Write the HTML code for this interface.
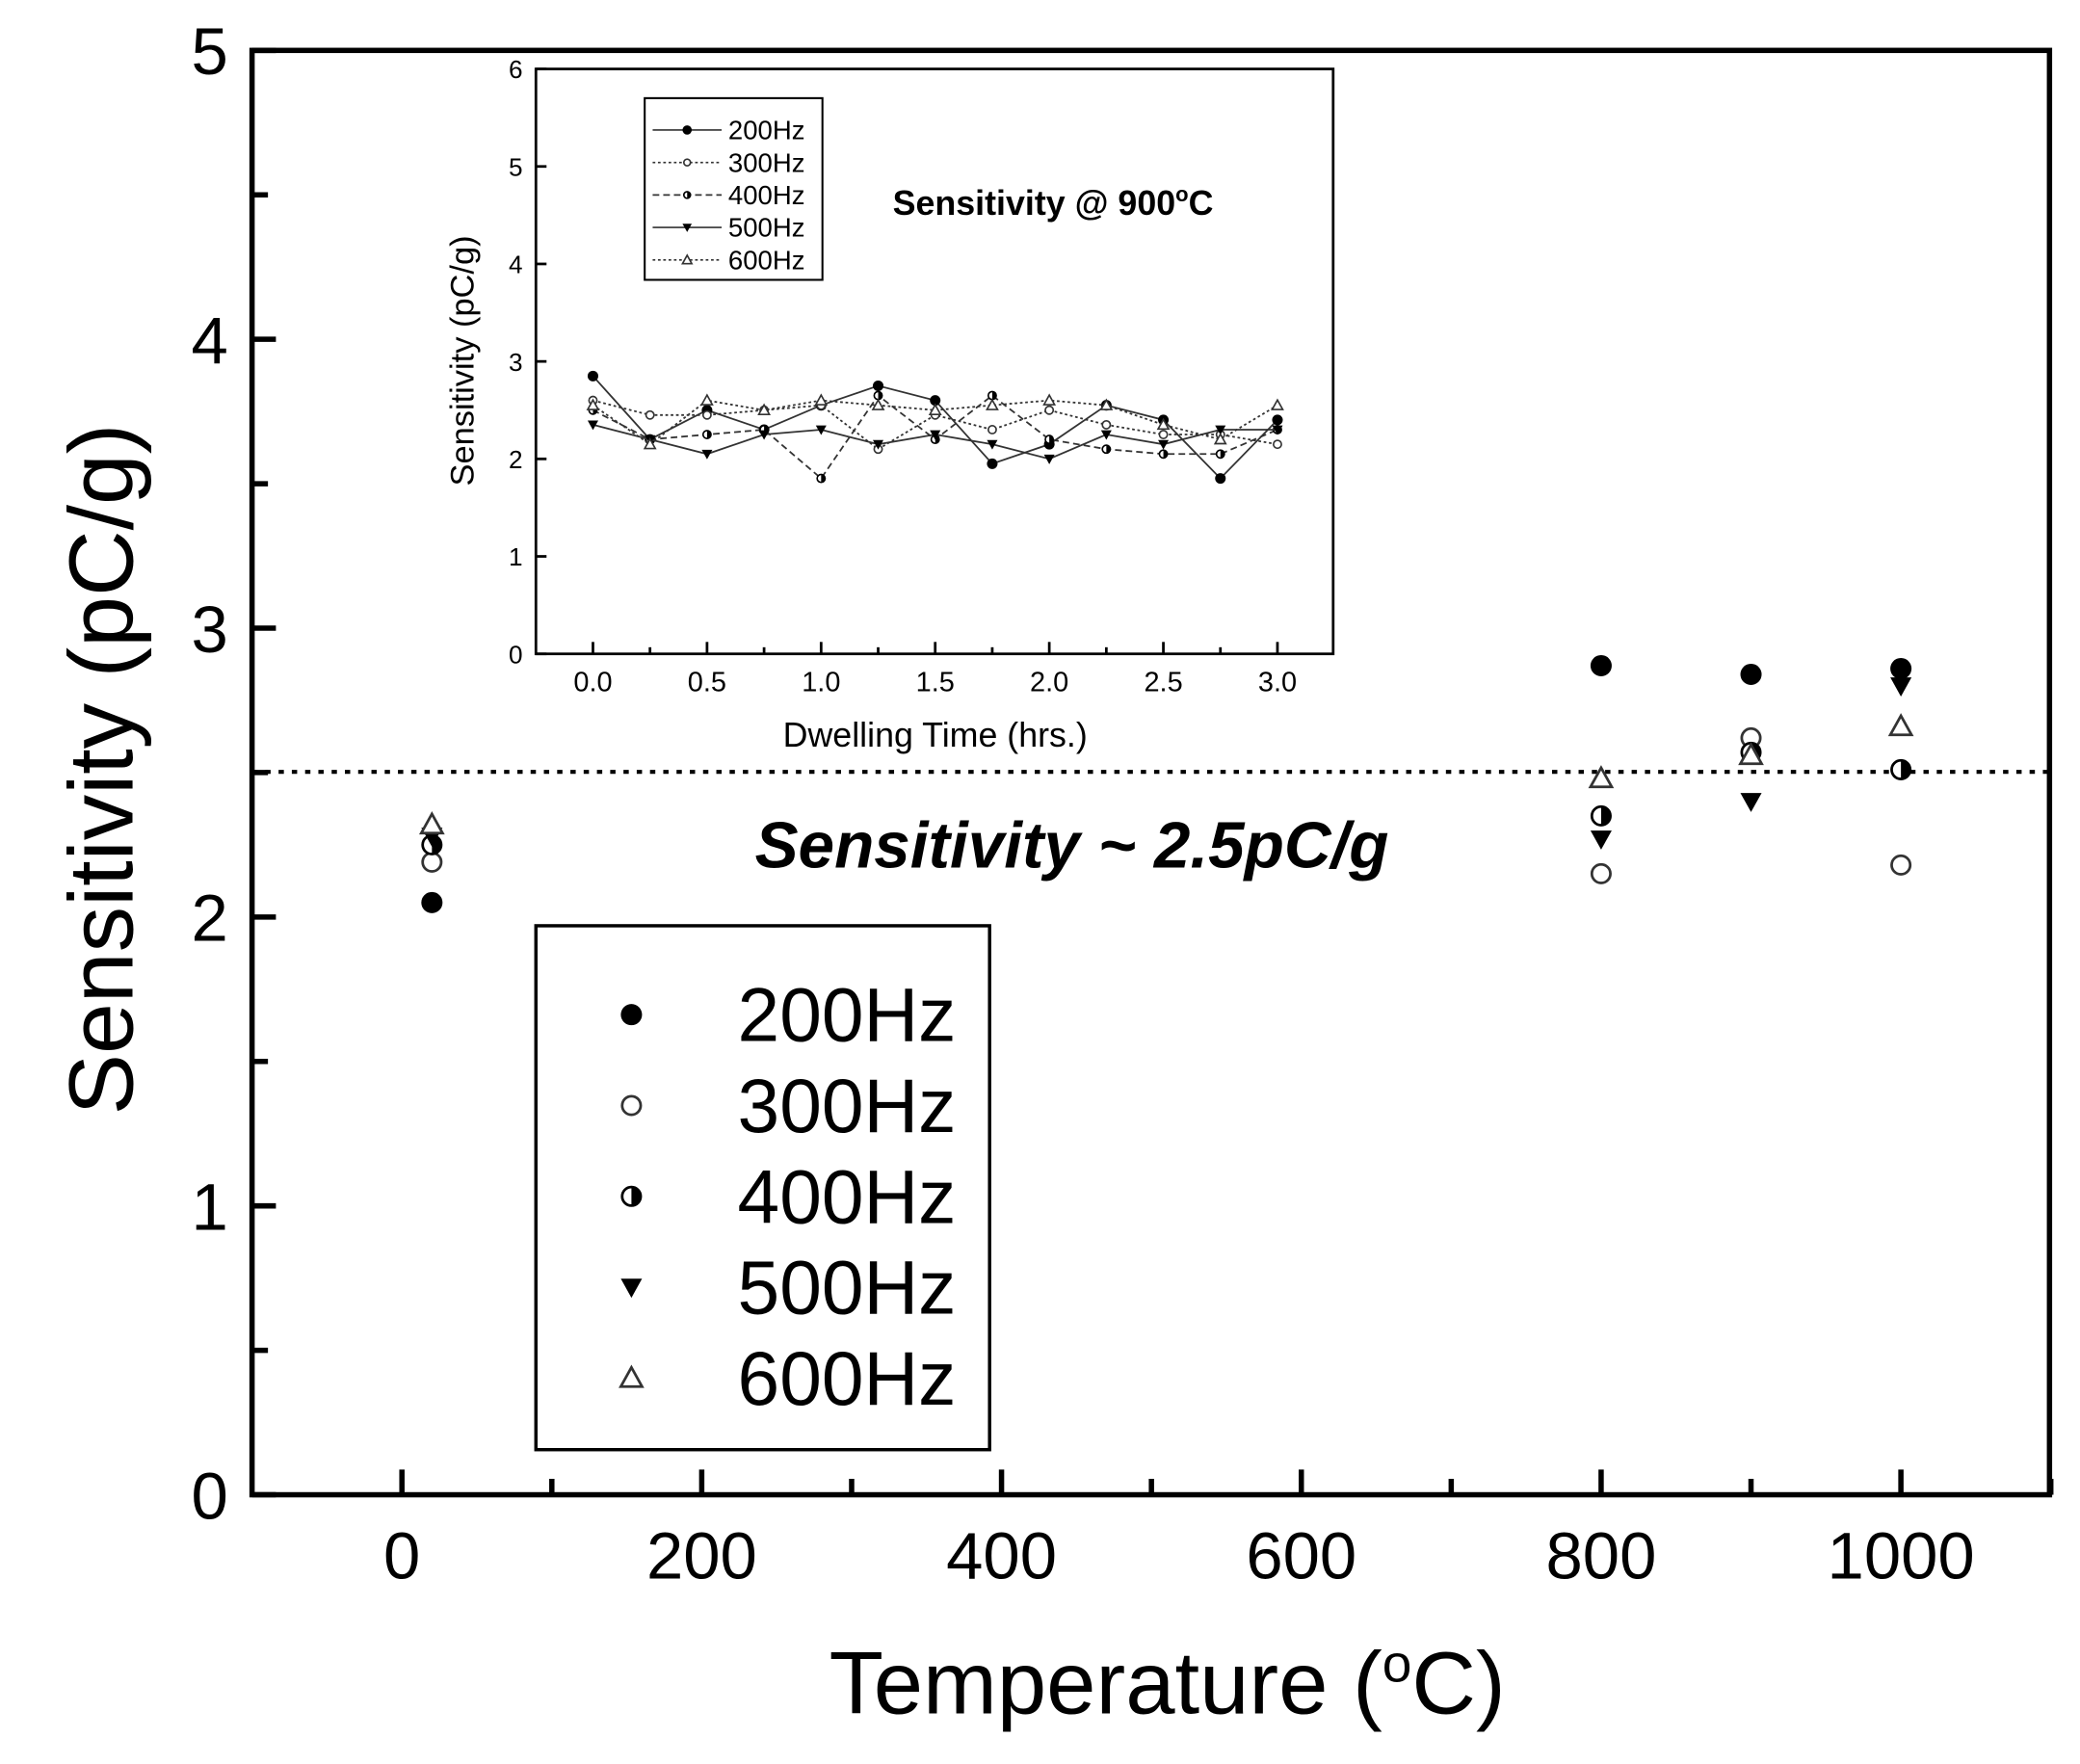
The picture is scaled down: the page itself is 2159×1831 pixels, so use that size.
<!DOCTYPE html>
<html><head><meta charset="utf-8"><style>html,body{margin:0;padding:0;background:#fff}svg{display:block}</style></head>
<body>
<svg id="s" xmlns="http://www.w3.org/2000/svg" width="2159" height="1831" viewBox="0 0 1568 1330" preserveAspectRatio="none" font-family="Liberation Sans, Arial, sans-serif"></svg>
<script>
const s=document.getElementById('s');let h='';
h+='<rect x="190" y="38" width="1355" height="1089" fill="none" stroke="#000" stroke-width="4"/>';
const X=v=>303+v*1.13, Y=v=>1127-v*217.8;
for(let v=0;v<=5;v+=0.5){const y=Y(v);h+=`<line x1="190" x2="${v%1?202:208}" y1="${y}" y2="${y}" stroke="#000" stroke-width="4"/>`;
 if(v%1==0)h+=`<text x="172" y="${y+18}" font-size="50" text-anchor="end">${v}</text>`;}
for(let v=0;v<=1100;v+=100){const x=X(v);h+=`<line x1="${x}" x2="${x}" y1="1127" y2="${v%200?1115:1108}" stroke="#000" stroke-width="4"/>`;
 if(v%200==0&&v<=1000)h+=`<text x="${x}" y="1190" font-size="50" text-anchor="middle">${v}</text>`;}
h+='<text x="880" y="1292" font-size="67" text-anchor="middle">Temperature (<tspan dy="-24" font-size="40">o</tspan><tspan dy="24">C)</tspan></text>';
h+='<text transform="translate(100,580) rotate(-90)" font-size="69" text-anchor="middle">Sensitivity (pC/g)</text>';
h+='<line x1="190" x2="1545" y1="582" y2="582" stroke="#000" stroke-width="3" stroke-dasharray="4,6"/>';
h+='<text x="808" y="654" font-size="49" font-weight="bold" font-style="italic" text-anchor="middle">Sensitivity ~ 2.5pC/g</text>';
function mk(t,x,y,r){r=r||8;const sw=r>5?2:1.2;
 if(t==0)return `<circle cx="${x}" cy="${y}" r="${r}" fill="#000"/>`;
 if(t==1)return `<circle cx="${x}" cy="${y}" r="${r-1}" fill="#fff" stroke="#333" stroke-width="${sw}"/>`;
 if(t==2)return `<circle cx="${x}" cy="${y}" r="${r-1}" fill="#fff" stroke="#000" stroke-width="${sw}"/><path d="M${x},${y-r+1} A${r-1},${r-1} 0 0 1 ${x},${y+r-1}Z" fill="#000"/>`;
 if(t==3)return `<path d="M${x-r},${y-r*0.8} L${x+r},${y-r*0.8} L${x},${y+r}Z" fill="#000"/>`;
 return `<path d="M${x-r},${y+r*0.8} L${x+r},${y+r*0.8} L${x},${y-r}Z" fill="#fff" stroke="#333" stroke-width="${sw}"/>`;}
const data={20:[2.05,2.19,2.25,2.28,2.32],800:[2.87,2.15,2.35,2.27,2.48],900:[2.84,2.62,2.57,2.4,2.56],1000:[2.86,2.18,2.51,2.8,2.66]};
for(const k in data)data[k].forEach((v,i)=>h+=mk(i,X(+k),Y(v)));
h+='<rect x="404" y="698" width="342" height="395" fill="#fff" stroke="#000" stroke-width="2.5"/>';
['200Hz','300Hz','400Hz','500Hz','600Hz'].forEach((l,i)=>{const y=765+i*68.5;h+=mk(i,476,y);h+=`<text x="556" y="${y+20}" font-size="57">${l}</text>`;});
h+='<rect x="404" y="52" width="601" height="441" fill="#fff" stroke="#000" stroke-width="2"/>';
const ix=t=>447+t*172, iy=v=>493-v*73.5;
for(let v=0;v<=6;v++){h+=`<line x1="404" x2="412" y1="${iy(v)}" y2="${iy(v)}" stroke="#000" stroke-width="2"/><text x="394" y="${iy(v)+7}" font-size="19" text-anchor="end">${v}</text>`;}
for(let i=0;i<=12;i++){const x=ix(i*0.25);h+=`<line x1="${x}" x2="${x}" y1="493" y2="${i%2?488:484}" stroke="#000" stroke-width="2"/>`;
 if(i%2==0)h+=`<text x="${x}" y="521" font-size="21" text-anchor="middle">${(i*0.25).toFixed(1)}</text>`;}
h+='<text x="705" y="563" font-size="26" text-anchor="middle">Dwelling Time (hrs.)</text>';
h+='<text transform="translate(357,272) rotate(-90)" font-size="25" text-anchor="middle">Sensitivity (pC/g)</text>';
h+='<text x="673" y="162" font-size="26" font-weight="bold">Sensitivity @ 900<tspan dy="-10" font-size="16">o</tspan><tspan dy="10">C</tspan></text>';
const ins=[[2.85,2.2,2.5,2.3,2.55,2.75,2.6,1.95,2.15,2.55,2.4,1.8,2.4],
[2.6,2.45,2.45,2.5,2.55,2.1,2.45,2.3,2.5,2.35,2.25,2.25,2.15],
[2.5,2.2,2.25,2.3,1.8,2.65,2.2,2.65,2.2,2.1,2.05,2.05,2.3],
[2.35,2.2,2.05,2.25,2.3,2.15,2.25,2.15,2.0,2.25,2.15,2.3,2.3],
[2.55,2.15,2.6,2.5,2.6,2.55,2.5,2.55,2.6,2.55,2.35,2.2,2.55]];
const styl=['','stroke-dasharray="2,2"','stroke-dasharray="5,3"','','stroke-dasharray="2,2"'];
ins.forEach((a,j)=>{h+=`<polyline fill="none" stroke="#333" stroke-width="1.3" ${styl[j]} points="${a.map((v,i)=>ix(i*0.25)+','+iy(v)).join(' ')}"/>`;
 a.forEach((v,i)=>h+=mk(j,ix(i*0.25),iy(v),4));});
h+='<rect x="486" y="74" width="134" height="137" fill="#fff" stroke="#000" stroke-width="1.5"/>';
['200Hz','300Hz','400Hz','500Hz','600Hz'].forEach((l,i)=>{const y=98+i*24.5;h+=`<line x1="492" x2="544" y1="${y}" y2="${y}" stroke="#333" stroke-width="1.2" ${styl[i]}/>`+mk(i,518,y,3.5)+`<text x="549" y="${y+7}" font-size="20">${l}</text>`;});
s.innerHTML=h;
</script>
</body></html>
